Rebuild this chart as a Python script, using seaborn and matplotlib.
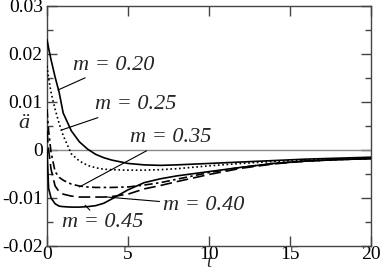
import matplotlib
matplotlib.use("Agg")
import matplotlib.pyplot as plt
import seaborn as sns
import pandas as pd
from matplotlib.ticker import MultipleLocator

# ---- data ----
t = [0, 0.1, 0.25, 0.5, 0.75, 1, 1.5, 2, 2.5, 3, 3.5, 4, 5, 6, 7, 8, 10, 12, 14, 16, 18, 20]
m020 = [0.0230, 0.0212, 0.0188, 0.0152, 0.0120, 0.0077, 0.0040, 0.0017, 0.0002, -0.0009, -0.0016,
        -0.0021, -0.0028, -0.0031, -0.0032, -0.0031, -0.0028, -0.0025, -0.0022, -0.0019, -0.0017, -0.0015]
m025 = [0.0175, 0.0150, 0.0120, 0.0085, 0.0055, 0.0030, -0.0008, -0.0023, -0.0032, -0.0037, -0.0040,
        -0.0041, -0.0042, -0.0042, -0.0041, -0.0039, -0.0033, -0.0028, -0.0024, -0.0021, -0.0019, -0.0017]
m035 = [0.0085, 0.0040, -0.0005, -0.0045, -0.0057, -0.0063, -0.0071, -0.0075, -0.0077, -0.0078, -0.0078,
        -0.0078, -0.0077, -0.0073, -0.0068, -0.0061, -0.0047, -0.0036, -0.0028, -0.0023, -0.0020, -0.0018]
m040 = [0.0040, 0.0000, -0.0040, -0.0075, -0.0087, -0.0092, -0.0096, -0.0098, -0.0098, -0.0098, -0.0098,
        -0.0097, -0.0092, -0.0081, -0.0074, -0.0066, -0.0051, -0.0038, -0.0029, -0.0023, -0.0020, -0.0018]
m045 = [0.0000, -0.0080, -0.0100, -0.0112, -0.0117, -0.0118, -0.0119, -0.0119, -0.0118, -0.0116, -0.0111,
        -0.0102, -0.0083, -0.0068, -0.0060, -0.0054, -0.0045, -0.0036, -0.0028, -0.0023, -0.0020, -0.0018]

labels = ["m = 0.20", "m = 0.25", "m = 0.35", "m = 0.40", "m = 0.45"]
series = [m020, m025, m035, m040, m045]
styles = ["-", (0, (1, 1.6)), (0, (5, 2, 1.5, 2)), (0, (7, 3)), "-"]

# annotation: (text position, curve point)
ann_text = [(1.6, 0.0177), (2.95, 0.0094), (5.1, 0.0025), (7.15, -0.0115), (0.9, -0.0152)]
ann_xy = [(0.68, 0.0125), (0.93, 0.0042), (2.0, -0.0077), (3.7, -0.0098), (2.35, -0.0115)]

xticks = [0, 5, 10, 15, 20]
yticks = [-0.02, -0.01, 0, 0.01, 0.02, 0.03]
yticklabels = ["-0.02", "-0.01", "0", "0.01", "0.02", "0.03"]

# ---- plot ----
sns.set_style("ticks")
plt.rcParams["font.family"] = ["Liberation Serif", "DejaVu Serif"]

fig = plt.figure(figsize=(3.82, 2.73), dpi=100)
ax = fig.add_axes([47 / 382, 1 - 246 / 273, 324 / 382, 240 / 273])

ax.axhline(0, color="#8a8a8a", lw=1.0, zorder=1)

df = pd.DataFrame({"t": t})
for lab, ys, ls in zip(labels, series, styles):
    df[lab] = ys
    sns.lineplot(x=df["t"], y=df[lab], ax=ax, color="black", lw=1.2,
                 linestyle=ls, zorder=3)

for lab, (tx, ty), (px, py) in zip(labels, ann_text, ann_xy):
    ax.annotate(lab, xy=(px, py), xytext=(tx, ty), ha="left", va="center",
                fontsize=16, fontstyle="italic",
                arrowprops=dict(arrowstyle="-", color="black", lw=0.8,
                                shrinkA=0, shrinkB=0))

ax.set_xlim(0, 20)
ax.set_ylim(-0.02, 0.03)
ax.set_xticks(xticks)
ax.set_xticklabels([str(v) for v in xticks])
ax.set_yticks(yticks)
ax.set_yticklabels(yticklabels)
ax.yaxis.set_minor_locator(MultipleLocator(0.005))

for sp in ax.spines.values():
    sp.set_visible(True)
    sp.set_color("#444444")
    sp.set_linewidth(1.0)

ax.tick_params(which="both", direction="in", top=True, right=True, colors="#444444",
               labelcolor="black", labelsize=14, pad=3)
ax.tick_params(axis="x", which="both", pad=0)
ax.tick_params(which="major", length=7, width=1)
ax.tick_params(which="minor", length=4, width=1)

ax.set_xlabel("")
ax.set_ylabel("")
ax.text(0.5, -0.106, "t", transform=ax.transAxes, fontsize=13, fontstyle="italic",
        ha="center", va="bottom")
ax.text(-0.07, 0.51, "ä", transform=ax.transAxes, fontsize=16, fontstyle="italic",
        ha="center", va="center")

fig.savefig("out.png", dpi=100)
